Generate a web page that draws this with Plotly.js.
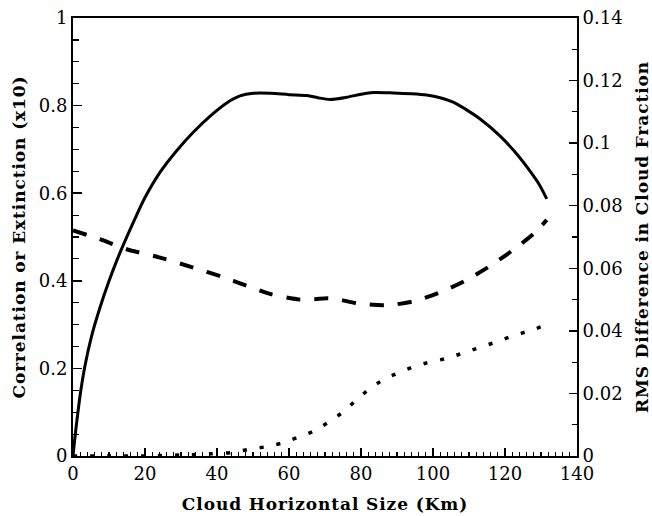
<!DOCTYPE html>
<html>
<head>
<meta charset="utf-8">
<script src="https://cdn.plot.ly/plotly-3.0.1.min.js"></script>
<style>
  html, body { margin: 0; padding: 0; background: #fff; }
  #chart { width: 652px; height: 516px; }
  /* widen the spacing of the axis titles */
  .xtitle, .ytitle, .y2title { letter-spacing: 0.9px; }
</style>
</head>
<body>
<div id="chart"></div>
<script>
// Cloud horizontal size (km) and correlation (solid curve)
const solidX  = [0, 0.5, 1, 2, 3.3, 5.2, 7.5, 9.8, 12.1, 14.4, 17, 20, 24.2, 28.8, 33.4, 38.1, 42.7, 46.4, 50.1, 55, 60, 65, 68, 71.4, 76, 80, 83.4, 89, 94, 98.2, 102, 105.6, 109, 113, 118.6, 123.2, 126.9, 129.5, 131.6];
const solidY  = [0, 0.04, 0.075, 0.14, 0.205, 0.275, 0.339, 0.395, 0.445, 0.49, 0.538, 0.59, 0.648, 0.697, 0.739, 0.776, 0.806, 0.822, 0.828, 0.828, 0.825, 0.823, 0.818, 0.814, 0.819, 0.826, 0.83, 0.829, 0.827, 0.824, 0.818, 0.808, 0.792, 0.77, 0.731, 0.69, 0.651, 0.62, 0.587];

// Extinction (x10), dashed curve
const dashX   = [0, 7.5, 14.9, 24.2, 33.4, 41.8, 48.2, 54.7, 63.1, 67, 70.9, 74, 78.8, 86.7, 94.5, 101.5, 108.9, 115.5, 122, 127.9, 131.6];
const dashY   = [0.515, 0.495, 0.472, 0.453, 0.43, 0.408, 0.389, 0.37, 0.357, 0.358, 0.36, 0.357, 0.349, 0.344, 0.353, 0.372, 0.4, 0.432, 0.469, 0.507, 0.539];

// RMS difference in cloud fraction (right axis), dotted curve
const rmsX    = [0, 20, 30, 38.5, 44, 48.7, 53.3, 58, 62.6, 67, 71.1, 75.1, 78.6, 82.2, 86.2, 90.4, 94.7, 99.4, 103.8, 108.6, 113, 117.7, 122.1, 126.8, 131.4];
const rmsY    = [0, 0, 0.0003, 0.0007, 0.0011, 0.0021, 0.0029, 0.0041, 0.006, 0.008, 0.0109, 0.0141, 0.0178, 0.0213, 0.0244, 0.0266, 0.0286, 0.0301, 0.0312, 0.033, 0.0347, 0.0365, 0.0384, 0.04, 0.0419];

// Axis tick values and labels
const xTicks      = [0, 20, 40, 60, 80, 100, 120, 140];
const leftTicks   = [0, 0.2, 0.4, 0.6, 0.8, 1];
const leftLabels  = ['0', '0.2', '0.4', '0.6', '0.8', '1'];
const rightTicks  = [0, 0.02, 0.04, 0.06, 0.08, 0.1, 0.12, 0.14];
const rightLabels = ['0', '0.02', '0.04', '0.06', '0.08', '0.1', '0.12', '0.14'];

const serif = 'DejaVu Serif, Liberation Serif, serif';
const titleFont = { family: serif, size: 17, weight: 'bold', color: '#000' };
const tickFont  = { family: serif, size: 18, color: '#000' };

const traces = [
  { x: solidX, y: solidY, mode: 'lines', line: { color: '#000', width: 3, shape: 'spline', smoothing: 0.8 }, hoverinfo: 'skip' },
  { x: dashX, y: dashY, mode: 'lines', line: { color: '#000', width: 4, shape: 'spline', smoothing: 0.8, dash: '14px,14px' }, hoverinfo: 'skip' },
  { x: rmsX, y: rmsY, yaxis: 'y2', mode: 'lines', line: { color: '#000', width: 3.5, shape: 'spline', smoothing: 0.6, dash: '4px,13px' }, hoverinfo: 'skip' }
];

const layout = {
  width: 652, height: 516,
  margin: { l: 73, r: 75, t: 18, b: 60 },
  paper_bgcolor: '#fff', plot_bgcolor: '#fff',
  showlegend: false,
  font: { family: serif, color: '#000' },
  xaxis: {
    range: [0, 140], tickvals: xTicks, ticktext: xTicks.map(String),
    showgrid: false, zeroline: false,
    showline: true, linecolor: '#000', linewidth: 2, mirror: true,
    ticks: 'inside', ticklen: 8, tickwidth: 1.5, tickcolor: '#000',
    minor: { dtick: 2, ticks: 'inside', ticklen: 4, tickwidth: 1.2, tickcolor: '#000', showgrid: false },
    tickfont: tickFont,
    title: { text: 'Cloud Horizontal Size (Km)', font: titleFont, standoff: 16 }
  },
  yaxis: {
    range: [0, 1], tickvals: leftTicks, ticktext: leftLabels,
    showgrid: false, zeroline: false,
    showline: true, linecolor: '#000', linewidth: 2,
    ticks: 'inside', ticklen: 9, tickwidth: 1.5, tickcolor: '#000',
    minor: { dtick: 0.05, ticks: 'inside', ticklen: 6, tickwidth: 1.2, tickcolor: '#000', showgrid: false },
    tickfont: tickFont,
    title: { text: 'Correlation or Extinction (x10)', font: titleFont, standoff: 9 }
  },
  yaxis2: {
    overlaying: 'y', side: 'right', anchor: 'x',
    range: [0, 0.14], tickvals: rightTicks, ticktext: rightLabels,
    showgrid: false, zeroline: false,
    showline: true, linecolor: '#000', linewidth: 2,
    ticks: 'inside', ticklen: 8, tickwidth: 1.5, tickcolor: '#000',
    minor: { dtick: 0.01, ticks: 'inside', ticklen: 5, tickwidth: 1.2, tickcolor: '#000', showgrid: false },
    tickfont: tickFont,
    title: { text: 'RMS Difference in Cloud Fraction', font: titleFont, standoff: 14 }
  }
};

Plotly.newPlot('chart', traces, layout, { staticPlot: true, displayModeBar: false });
</script>
</body>
</html>
